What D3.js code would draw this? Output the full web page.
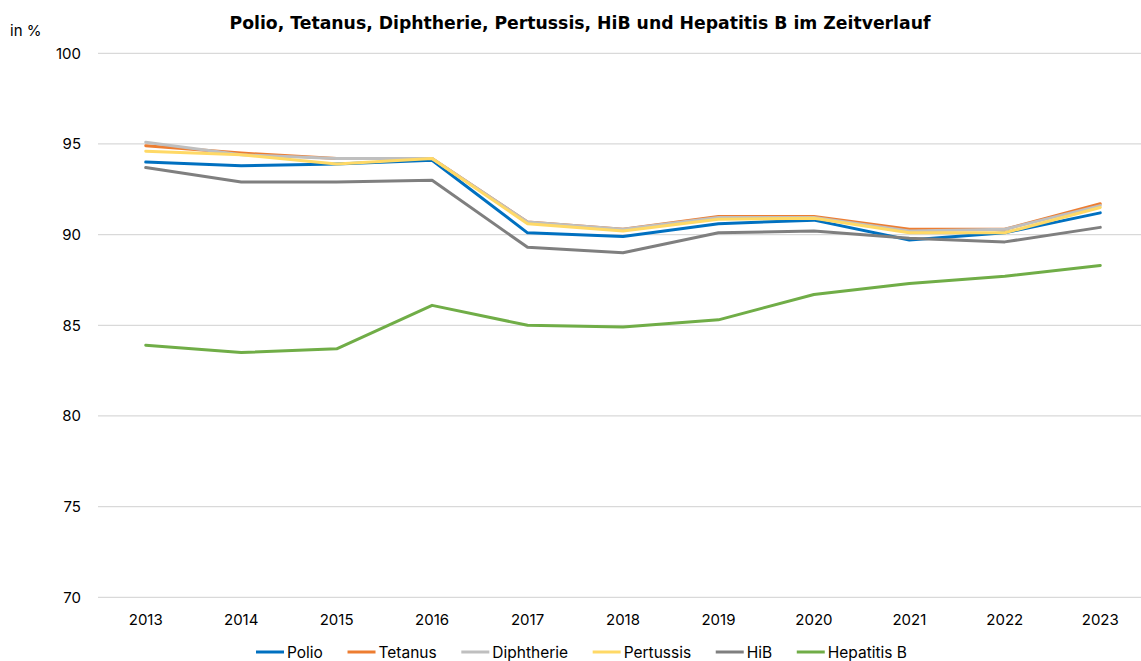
<!DOCTYPE html>
<html>
<head>
<meta charset="utf-8">
<script src="https://cdn.jsdelivr.net/npm/d3@7"></script>
<style>
  html, body { margin: 0; padding: 0; background: #fff; }
  svg { display: block; font-family: Inter, "Noto Sans", sans-serif; }
</style>
</head>
<body>
<svg id="chart" width="1141" height="661"></svg>
<script>
const years = ["2013","2014","2015","2016","2017","2018","2019","2020","2021","2022","2023"];
const polio      = [94.0, 93.8, 93.9, 94.1, 90.1, 89.9, 90.6, 90.8, 89.7, 90.1, 91.2];
const tetanus    = [94.9, 94.5, 94.2, 94.2, 90.7, 90.3, 91.0, 91.0, 90.3, 90.3, 91.7];
const diphtherie = [95.1, 94.4, 94.2, 94.2, 90.7, 90.3, 90.95, 90.95, 90.2, 90.3, 91.6];
const pertussis  = [94.6, 94.4, 93.9, 94.2, 90.6, 90.2, 90.85, 90.9, 90.1, 90.1, 91.5];
const hib        = [93.7, 92.9, 92.9, 93.0, 89.3, 89.0, 90.1, 90.2, 89.8, 89.6, 90.4];
const hepatitisB = [83.9, 83.5, 83.7, 86.1, 85.0, 84.9, 85.3, 86.7, 87.3, 87.7, 88.3];
const seriesNames = ["Polio","Tetanus","Diphtherie","Pertussis","HiB","Hepatitis B"];
const seriesColors = ["#0070C0","#ED7D31","#BFBFBF","#FFD966","#7F7F7F","#70AD47"];
const yTicks = [70, 75, 80, 85, 90, 95, 100];
const title = "Polio, Tetanus, Diphtherie, Pertussis, HiB und Hepatitis B im Zeitverlauf";
const yUnit = "in %";

const seriesValues = [polio, tetanus, diphtherie, pertussis, hib, hepatitisB];
const series = seriesNames.map((n, i) => ({ name: n, color: seriesColors[i], values: seriesValues[i] }));

const svg = d3.select("#chart");
const plotLeft = 98, plotRight = 1148, plotTop = 53.3, plotBottom = 597.3;

const x = d3.scaleBand().domain(years).range([plotLeft, plotRight]);
const y = d3.scaleLinear().domain([70, 100]).range([plotBottom, plotTop]);

// gridlines
svg.append("g").selectAll("line").data(yTicks).join("line")
  .attr("x1", plotLeft).attr("x2", 1141)
  .attr("y1", d => y(d)).attr("y2", d => y(d))
  .attr("stroke", "#D9D9D9").attr("stroke-width", 1.3);

// y axis labels
const yAxis = d3.axisLeft(y).tickValues(yTicks).tickSize(0).tickPadding(0).tickFormat(d3.format("d"));
svg.append("g").attr("transform", "translate(81,0)").call(yAxis)
  .call(g => g.select(".domain").remove())
  .call(g => g.selectAll("text").attr("font-size", 15).attr("fill", "#000")
    .attr("font-family", "Inter, 'Noto Sans', sans-serif").attr("text-anchor", "end"));

// x axis labels
const xAxis = d3.axisBottom(x).tickSize(0).tickPadding(0);
svg.append("g").attr("transform", `translate(0,${plotBottom + 17})`).call(xAxis)
  .call(g => g.select(".domain").remove())
  .call(g => g.selectAll("text").attr("font-size", 15).attr("fill", "#000")
    .attr("font-family", "Inter, 'Noto Sans', sans-serif"));

// lines
const line = d3.line()
  .x((d, i) => x(years[i]) + x.bandwidth() / 2)
  .y(d => y(d));

svg.append("g").selectAll("path").data(series).join("path")
  .attr("d", d => line(d.values))
  .attr("fill", "none")
  .attr("stroke", d => d.color)
  .attr("stroke-width", 3)
  .attr("stroke-linejoin", "round")
  .attr("stroke-linecap", "round");

// title
svg.append("text").attr("x", 580).attr("y", 29)
  .attr("text-anchor", "middle").attr("font-size", 17.25).attr("font-weight", 700)
  .attr("font-family", "'DejaVu Sans', sans-serif")
  .attr("fill", "#000").text(title);

// unit
svg.append("text").attr("x", 10).attr("y", 36)
  .attr("font-size", 15).attr("fill", "#000").text(yUnit);

// legend
const legend = svg.append("g");
const items = [];
series.forEach(s => {
  const g = legend.append("g");
  g.append("line").attr("x1", 0).attr("x2", 28).attr("y1", 0).attr("y2", 0)
    .attr("stroke", s.color).attr("stroke-width", 3);
  const t = g.append("text").attr("x", 31).attr("y", 5.5)
    .attr("font-size", 15.5).attr("fill", "#000").text(s.name);
  const w = 31 + t.node().getComputedTextLength();
  items.push({ g, w });
});
const legendStart = 256, legendEnd = 907;
const gap = (legendEnd - legendStart - d3.sum(items, d => d.w)) / (items.length - 1);
let cx = legendStart;
items.forEach(it => {
  it.g.attr("transform", `translate(${cx},652)`);
  cx += it.w + gap;
});
</script>
</body>
</html>
